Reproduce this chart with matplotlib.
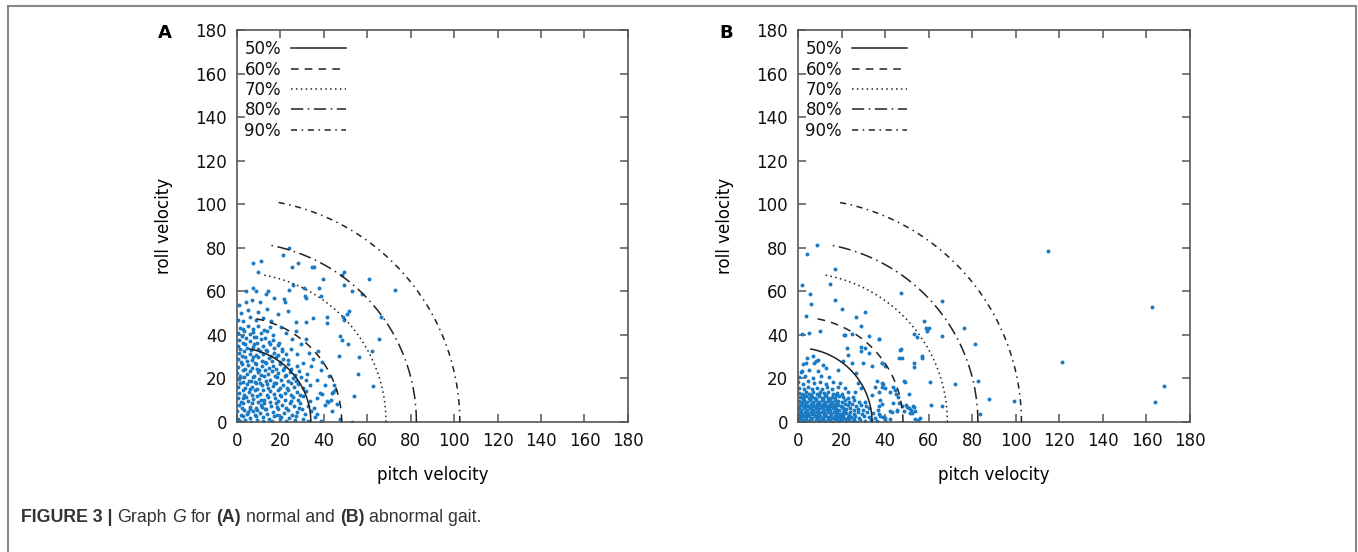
import numpy as np
import matplotlib
matplotlib.use("Agg")
import matplotlib.pyplot as plt
from matplotlib.patches import Rectangle

# contour levels (radius of each quarter arc, same in both panels)
levels = ["50%", "60%", "70%", "80%", "90%"]
radii = [34.0, 48.2, 68.6, 82.6, 102.6]
styles = ["-", (0, (5, 4)), (0, (1, 2.2)), (0, (8, 3, 1, 3)), (0, (4, 3, 1, 3))]

ticks = [0, 20, 40, 60, 80, 100, 120, 140, 160, 180]

# (pitch velocity, roll velocity) - normal gait
normal_gait = [
    (0.6, 1.4), (1.2, 0.3), (2.9, 2.6), (3.5, 0.9), (5.8, 1.8), (6.4, 0.2), (8.9, 2.9), (9.3, 1.1),
    (11.8, 0.5), (12.1, 2.3), (14.7, 1.5), (16.2, 0.4), (17.0, 2.8), (19.6, 1.2), (20.3, 2.5),
    (22.8, 0.3), (24.1, 1.9), (26.9, 0.8), (27.4, 2.7), (30.2, 1.6), (32.8, 0.4), (35.9, 2.1),
    (38.6, 0.6), (47.5, 1.2),
    (0.2, 4.9), (1.7, 3.4), (3.1, 5.6), (4.4, 3.8), (7.5, 5.2), (8.1, 3.2), (10.6, 4.3), (13.3, 5.8),
    (13.9, 3.5), (16.8, 4.6), (18.3, 3.1), (19.0, 5.9), (21.7, 4.0), (23.5, 5.5), (25.2, 3.3),
    (27.8, 4.7), (29.9, 5.9), (31.5, 3.6), (34.2, 5.0), (36.7, 3.9), (9.4, 5.7), (5.3, 4.4),
    (1.1, 7.8), (2.4, 6.3), (3.0, 8.7), (5.9, 7.1), (7.0, 8.9), (8.8, 6.4), (10.9, 7.7), (12.3, 8.8),
    (13.1, 6.2), (15.7, 7.4), (17.9, 8.6), (18.6, 6.7), (20.9, 7.9), (22.4, 6.3), (24.3, 8.8),
    (26.1, 7.2), (28.4, 6.5), (29.0, 8.5), (32.7, 7.3), (35.3, 6.6), (6.2, 6.0), (11.5, 6.9),
    (0.3, 10.9), (1.9, 9.3), (4.2, 11.7), (4.9, 9.8), (7.6, 10.4), (9.0, 11.9), (9.7, 9.1),
    (12.4, 10.2), (14.2, 11.6), (15.3, 9.4), (17.5, 10.8), (19.1, 9.6), (20.5, 11.8), (22.2, 10.1),
    (24.9, 9.5), (25.6, 11.5), (28.3, 10.3), (30.6, 11.8), (33.4, 9.7), (36.8, 11.2), (2.7, 11.2),
    (11.1, 9.9),
    (0.8, 13.3), (2.6, 14.8), (3.3, 12.5), (5.5, 13.9), (7.1, 12.2), (8.4, 14.6), (10.4, 13.0),
    (11.9, 14.9), (13.6, 12.4), (15.0, 14.1), (16.9, 12.8), (18.7, 14.7), (19.8, 12.3), (22.0, 13.5),
    (23.7, 14.9), (25.0, 12.6), (27.6, 13.8), (29.2, 12.2), (31.9, 14.4), (39.3, 12.9), (6.0, 15.0),
    (0.4, 16.2), (1.4, 17.8), (3.9, 15.6), (4.5, 17.4), (6.8, 16.3), (8.6, 17.9), (9.2, 15.3),
    (11.3, 16.8), (13.8, 17.6), (14.4, 15.4), (16.5, 16.5), (18.0, 17.9), (19.6, 15.8), (21.3, 17.1),
    (23.0, 15.5), (24.8, 17.7), (26.3, 16.1), (28.1, 17.3), (30.4, 15.7), (33.6, 16.9), (10.5, 17.7),
    (0.9, 19.6), (2.7, 18.4), (3.4, 20.8), (5.6, 19.0), (7.3, 20.5), (8.1, 18.2), (10.0, 19.9),
    (12.5, 20.9), (13.2, 18.7), (15.4, 19.5), (17.1, 18.1), (18.3, 20.6), (20.2, 19.2), (21.9, 20.9),
    (23.6, 18.6), (25.7, 20.1), (27.2, 18.9), (29.5, 20.7), (31.6, 19.3), (6.3, 18.9),
    (0.2, 22.6), (1.5, 21.2), (2.9, 23.8), (4.8, 22.0), (6.1, 23.5), (7.7, 21.3), (9.5, 22.9),
    (11.0, 21.6), (12.7, 23.9), (14.1, 22.2), (15.9, 23.4), (17.4, 21.1), (19.0, 22.7), (21.0, 23.9),
    (22.7, 21.7), (24.6, 23.0), (26.8, 21.4), (28.6, 23.6), (10.3, 24.0),
    (0.7, 25.3), (2.2, 26.8), (3.8, 24.4), (5.2, 26.1), (7.0, 24.9), (8.7, 26.7), (9.4, 24.2),
    (11.6, 25.6), (13.4, 26.9), (14.8, 24.6), (16.6, 25.9), (18.1, 24.3), (19.9, 26.5), (21.5, 25.0),
    (23.3, 26.7), (25.1, 24.5), (27.7, 25.8),
    (0.3, 28.9), (1.9, 27.4), (3.6, 29.7), (4.5, 27.9), (6.7, 28.6), (8.3, 27.1), (9.9, 29.8),
    (11.5, 28.2), (13.0, 27.5), (14.7, 29.4), (16.3, 28.0), (17.9, 29.9), (19.6, 27.7), (21.2, 29.1),
    (23.4, 28.3), (7.5, 30.0),
    (0.8, 31.6), (2.4, 30.2), (3.2, 32.8), (5.8, 31.2), (6.5, 32.9), (8.9, 30.6), (10.6, 32.4),
    (12.2, 31.0), (13.8, 32.7), (15.6, 30.4), (17.2, 31.9), (19.1, 30.8), (20.7, 32.6), (22.8, 31.3),
    (0.3, 34.8), (1.6, 33.3), (3.9, 35.7), (4.7, 33.9), (7.2, 34.5), (8.0, 35.9), (9.6, 33.5),
    (11.9, 34.9), (13.5, 33.2), (15.2, 35.6), (17.0, 34.0), (18.9, 35.3), (20.6, 33.6),
    (1.1, 37.5), (2.6, 36.2), (4.3, 38.6), (6.0, 37.0), (7.8, 38.9), (9.3, 36.4), (10.9, 37.9),
    (12.8, 38.5), (14.6, 36.8), (16.7, 37.5), (19.2, 36.3),
    (0.5, 40.8), (2.1, 39.3), (3.3, 41.7), (5.8, 40.2), (7.5, 41.5), (8.7, 39.2), (11.0, 40.9),
    (13.9, 41.8), (16.4, 39.9),
    (1.2, 43.2), (3.0, 42.6), (5.0, 44.0), (7.4, 42.8), (9.8, 43.9), (12.3, 42.4), (15.0, 43.6),
    (0.6, 47.0), (2.8, 46.3), (6.2, 48.1), (8.9, 46.7), (12.0, 47.9), (15.6, 46.5), (2.0, 50.2),
    (5.3, 51.4), (9.6, 50.6), (13.7, 51.8), (18.9, 49.8), (0.9, 53.6), (4.1, 55.0), (23.5, 50.8),
    (32.4, 22.1), (34.0, 25.6), (30.5, 27.3), (36.8, 19.4), (38.5, 23.7), (35.2, 28.9), (27.8, 31.4),
    (24.9, 33.7), (40.7, 17.2), (42.3, 21.0), (39.1, 27.6), (33.3, 31.5), (29.6, 35.8), (25.5, 38.3),
    (22.4, 40.9), (44.1, 13.6), (41.4, 9.8), (43.7, 4.9), (46.2, 8.3), (37.3, 32.8), (31.8, 37.9),
    (27.1, 41.6), (20.3, 43.8),
    (24.1, 79.8), (21.3, 76.9), (7.4, 72.9), (10.9, 73.9), (9.8, 69.1), (28.2, 73.1), (34.7, 71.1),
    (35.5, 71.1), (25.3, 71.1), (49.4, 68.7), (48.5, 67.4), (39.8, 65.7), (60.8, 65.6), (72.8, 60.4),
    (49.4, 62.8), (37.9, 61.6), (31.0, 61.6), (25.9, 62.8), (24.0, 60.4), (14.1, 60.1), (13.2, 58.7),
    (7.4, 61.3), (8.6, 60.1), (4.3, 60.1), (52.9, 60.1), (57.5, 59.0), (38.9, 57.8), (31.3, 57.8),
    (31.8, 57.0), (17.2, 57.0), (21.5, 56.3), (22.1, 54.9), (10.7, 55.2), (6.8, 56.0), (51.6, 51.1),
    (50.8, 49.4), (48.7, 48.3), (49.4, 46.8), (66.4, 48.3), (41.3, 48.3), (41.6, 45.3), (34.9, 47.7),
    (31.8, 46.0), (27.3, 46.0), (47.6, 39.3), (48.2, 37.6), (51.3, 35.6), (65.4, 38.1), (62.1, 32.6),
    (56.2, 30.0), (46.9, 30.4), (55.9, 21.9), (62.4, 16.7), (53.9, 11.9), (52.8, 0.1), (44.8, 17.0),
    (45.2, 14.5), (43.6, 13.2), (40.6, 7.8), (42.1, 9.3), (43.3, 10.1), (38.1, 13.3),
]

# (pitch velocity, roll velocity) - abnormal gait
abnormal_gait = [
    (0.4, 0.9), (1.6, 0.3), (2.9, 1.1), (4.2, 0.5), (5.4, 0.8), (6.8, 0.2), (8.1, 1.0), (9.5, 0.4),
    (10.8, 0.9), (12.2, 0.3), (13.6, 1.2), (14.9, 0.6), (16.3, 0.2), (17.7, 1.0), (19.0, 0.5),
    (20.4, 0.8), (21.9, 0.3), (23.4, 1.1), (25.1, 0.6), (26.8, 0.2), (28.6, 0.9), (30.9, 0.4),
    (33.7, 1.0), (36.5, 0.5), (39.8, 0.7),
    (0.2, 2.6), (1.3, 2.0), (2.5, 2.9), (3.8, 2.2), (5.1, 2.7), (6.4, 1.9), (7.7, 2.8), (9.0, 2.1),
    (10.3, 2.6), (11.7, 2.0), (13.0, 2.9), (14.4, 2.3), (15.8, 1.8), (17.1, 2.7), (18.5, 2.2),
    (19.9, 2.9), (21.3, 1.9), (22.8, 2.5), (24.4, 2.1), (26.2, 2.8), (28.0, 2.0), (30.1, 2.6),
    (32.6, 2.2), (35.2, 1.9),
    (0.6, 4.3), (1.9, 3.8), (3.2, 4.7), (4.5, 3.9), (5.9, 4.5), (7.2, 3.7), (8.5, 4.6), (9.8, 4.0),
    (11.2, 4.8), (12.5, 3.8), (13.9, 4.4), (15.2, 3.6), (16.6, 4.7), (18.0, 4.1), (19.4, 3.7),
    (20.8, 4.5), (22.2, 4.0), (23.9, 4.8), (25.6, 3.9), (27.4, 4.4), (29.3, 3.8), (31.7, 4.6),
    (34.4, 4.1),
    (0.3, 6.1), (1.5, 5.6), (2.8, 6.5), (4.1, 5.7), (5.4, 6.3), (6.8, 5.5), (8.1, 6.4), (9.4, 5.8),
    (10.8, 6.6), (12.1, 5.6), (13.5, 6.2), (14.8, 5.4), (16.2, 6.5), (17.6, 5.9), (19.0, 5.5),
    (20.5, 6.3), (22.0, 5.8), (23.7, 6.6), (25.5, 5.7), (27.5, 6.2), (29.8, 5.6), (32.4, 6.4),
    (0.8, 7.9), (2.1, 7.4), (3.4, 8.3), (4.7, 7.5), (6.1, 8.1), (7.4, 7.3), (8.8, 8.2), (10.1, 7.6),
    (11.5, 8.4), (12.8, 7.4), (14.2, 8.0), (15.6, 7.2), (17.0, 8.3), (18.4, 7.7), (19.9, 7.3),
    (21.4, 8.1), (23.0, 7.6), (24.8, 8.4), (26.7, 7.5), (28.9, 8.0), (31.3, 7.4),
    (0.4, 9.7), (1.7, 9.2), (3.0, 10.1), (4.3, 9.3), (5.7, 9.9), (7.0, 9.1), (8.4, 10.0), (9.8, 9.4),
    (11.2, 10.2), (12.6, 9.2), (14.0, 9.8), (15.4, 9.0), (16.9, 10.1), (18.4, 9.5), (20.0, 9.1),
    (21.7, 9.9), (23.5, 9.4), (25.6, 10.2), (28.0, 9.3),
    (0.9, 11.5), (2.3, 11.0), (3.7, 11.9), (5.1, 11.1), (6.6, 11.7), (8.0, 10.9), (9.5, 11.8),
    (11.0, 11.2), (12.5, 12.0), (14.0, 11.0), (15.6, 11.6), (17.2, 10.8), (18.9, 11.9), (20.8, 11.3),
    (22.9, 10.9), (25.2, 11.7),
    (0.3, 13.4), (1.9, 12.9), (3.5, 13.8), (5.2, 13.0), (6.9, 13.6), (8.6, 12.8), (10.3, 13.7),
    (12.1, 13.1), (14.0, 13.9), (15.9, 12.9), (18.0, 13.5), (20.3, 12.7), (23.1, 13.6),
    (0.7, 15.6), (2.6, 15.1), (4.6, 16.0), (6.6, 15.2), (8.7, 15.8), (10.9, 15.0), (13.2, 15.9),
    (15.6, 15.3), (18.3, 16.1), (21.4, 15.4),
    (0.2, 18.2), (2.3, 17.6), (4.7, 18.6), (7.2, 17.8), (9.9, 18.4), (12.8, 17.5), (15.9, 18.3),
    (19.4, 17.9),
    (1.0, 1.7), (3.5, 1.5), (6.0, 1.3), (8.7, 1.6), (11.4, 1.4), (14.2, 1.2), (16.9, 1.6), (19.7, 1.3),
    (22.6, 1.5), (25.8, 1.4), (0.9, 3.3), (3.9, 3.1), (6.6, 3.5), (9.4, 3.2), (12.0, 3.4), (15.0, 3.0),
    (17.6, 3.4), (20.6, 3.2), (23.6, 3.3), (1.2, 5.1), (4.0, 4.9), (6.4, 5.0), (9.1, 5.2), (11.8, 5.1),
    (14.5, 4.9), (17.3, 5.3), (21.0, 5.0), (0.6, 6.9), (3.3, 7.0), (5.9, 6.8), (8.7, 7.1), (11.4, 6.9),
    (14.1, 7.0), (16.9, 6.8), (20.1, 7.0), (1.2, 8.8), (3.9, 8.7), (6.7, 8.9), (9.3, 8.6), (12.3, 8.9),
    (15.0, 8.6), (18.1, 8.8), (2.3, 10.5), (5.4, 10.4), (8.2, 10.6), (11.4, 10.5), (14.6, 10.4),
    (2.9, 12.3), (6.1, 12.4), (9.6, 12.2), (13.0, 12.5), (17.5, 12.3),
    (0.6, 20.5), (3.4, 21.2), (6.8, 20.3), (10.5, 21.0), (14.4, 20.6), (1.3, 23.1), (5.0, 24.0),
    (9.2, 23.4), (12.9, 24.6), (2.4, 26.5), (7.5, 27.3), (11.6, 26.0), (4.2, 29.2), (9.0, 28.4),
    (46.9, 33.2), (47.7, 29.4), (56.9, 30.1), (37.4, 38.1), (21.6, 40.0), (30.8, 34.0), (29.0, 32.4),
    (24.6, 27.0), (30.0, 27.0), (33.8, 25.8), (38.4, 27.0), (36.1, 18.6), (39.2, 17.6), (35.4, 16.3),
    (42.3, 14.0), (48.5, 18.6), (33.8, 12.5), (37.7, 10.2), (30.8, 9.4), (43.8, 8.7), (45.4, 5.6),
    (50.0, 6.9), (52.3, 4.1), (42.3, 4.9), (36.9, 5.6), (39.2, 2.3), (66.2, 7.2), (56.2, 1.8),
    (20.8, 27.8), (23.1, 30.9), (18.5, 24.0), (6.8, 30.1), (8.4, 27.8), (3.6, 27.0), (2.0, 23.2),
    (26.6, 22.5), (27.5, 17.9), (26.0, 14.0), (29.0, 15.6),
    (8.9, 81.2), (4.3, 77.3), (16.9, 70.2), (14.6, 63.3), (1.8, 63.0), (5.7, 58.9), (16.9, 55.8),
    (6.0, 54.0), (20.4, 52.1), (3.8, 48.9), (30.9, 50.5), (26.6, 48.2), (28.8, 44.2), (10.0, 41.6),
    (5.1, 40.8), (2.0, 40.4), (21.2, 39.9), (24.6, 40.5), (32.6, 39.6), (29.0, 34.4), (32.8, 31.9),
    (22.6, 34.1),
    (47.4, 59.4), (66.0, 55.5), (57.8, 46.5), (58.6, 43.3), (60.0, 43.0), (59.4, 41.9), (76.3, 43.1),
    (53.5, 40.4), (54.8, 39.0), (66.1, 39.3), (81.5, 36.0), (37.0, 38.2), (47.4, 33.5), (46.5, 29.5),
    (57.0, 29.5), (53.5, 27.3), (53.5, 25.2), (38.8, 27.3), (40.0, 25.5), (49.0, 18.2), (60.6, 18.2),
    (72.3, 17.6), (82.5, 19.0), (38.5, 17.9), (38.8, 16.0), (40.0, 15.6), (37.0, 14.0), (43.8, 16.0),
    (44.6, 14.8), (44.9, 13.0), (45.8, 11.7), (51.0, 12.8), (38.5, 8.3), (37.0, 7.2), (37.0, 3.7),
    (37.7, 2.6), (40.0, 1.8), (42.3, 1.5), (46.5, 8.7), (47.7, 7.2), (49.5, 7.9), (51.0, 6.4),
    (52.0, 5.6), (52.6, 7.5), (53.5, 6.9), (53.8, 4.9), (51.5, 4.1), (48.5, 4.9), (45.4, 4.9),
    (43.1, 4.4), (53.8, 1.4), (55.3, 1.1), (61.2, 7.9), (87.7, 10.5), (99.2, 9.6), (83.5, 3.7),
    (115.0, 78.5), (121.0, 27.5), (162.4, 53.0), (164.0, 9.4), (168.0, 16.4),
]

panels = [("A", normal_gait), ("B", abnormal_gait)]

plt.rcParams["font.family"] = ["DejaVu Sans"]

fig = plt.figure(figsize=(13.58, 5.52), dpi=100)
axes_boxes = [[0.1745, 0.2355, 0.2879, 0.7102], [0.5876, 0.2355, 0.2887, 0.7102]]

spine_col = "#555555"
for (letter, pts), box in zip(panels, axes_boxes):
    ax = fig.add_axes(box)
    pts = np.array(pts)
    ax.scatter(pts[:, 0], pts[:, 1], s=8, color="#1a7ac4", linewidths=0, zorder=2)

    theta = np.linspace(0, np.radians(80), 120)
    for lab, r, ls in zip(levels, radii, styles):
        ax.plot(r * np.cos(theta), r * np.sin(theta), color="#222222", lw=1.1,
                linestyle=ls, label=lab, zorder=3)

    ax.set_xlim(0, 180)
    ax.set_ylim(0, 180)
    ax.set_xticks(ticks)
    ax.set_yticks(ticks)
    ax.tick_params(direction="in", length=6, width=1.1, color=spine_col,
                   top=True, right=True, labelsize=12, pad=7, labelcolor="#111111")
    for sp in ax.spines.values():
        sp.set_color(spine_col)
        sp.set_linewidth(1.2)
    ax.set_xlabel("pitch velocity", fontsize=12, labelpad=12)
    ax.set_ylabel("roll velocity", fontsize=12, labelpad=16)

    leg = ax.legend(loc="upper left", bbox_to_anchor=(0.0, 0.993), markerfirst=False,
                    frameon=False, fontsize=12, handlelength=3.3, handletextpad=0.6,
                    labelspacing=0.14, borderaxespad=0.15, borderpad=0.3)
    for t in leg.get_texts():
        t.set_color("#111111")

    ax.text(-0.184, 0.992, letter, transform=ax.transAxes, fontsize=13,
            fontweight="bold", ha="center", va="center")

# outer frame of the figure panel
fig.add_artist(Rectangle((8 / 1358, -0.1), 1348 / 1358, 1.1 - 6 / 552,
                         transform=fig.transFigure, fill=False,
                         edgecolor="#888888", linewidth=1.5))

# caption built from styled pieces
renderer = fig.canvas.get_renderer()
cap_size = 12.8
pieces = [("FIGURE 3 |", "bold", "normal"), ("Graph", "normal", "normal"),
          ("G", "normal", "italic"), ("for", "normal", "normal"),
          ("(A)", "bold", "normal"), ("normal and", "normal", "normal"),
          ("(B)", "bold", "normal"), ("abnormal gait.", "normal", "normal")]
space = cap_size * 0.278 * 100 / 72 / fig.bbox.width
x = 21 / 1358
y = 1 - 517 / 552
for txt, wt, st in pieces:
    t = fig.text(x, y, txt, fontsize=cap_size, fontweight=wt, fontstyle=st,
                 family=["Liberation Sans", "DejaVu Sans"], color="#333333",
                 va="center", ha="left")
    bb = t.get_window_extent(renderer=renderer)
    x += bb.width / fig.bbox.width + space

fig.savefig("out.png", dpi=100)
